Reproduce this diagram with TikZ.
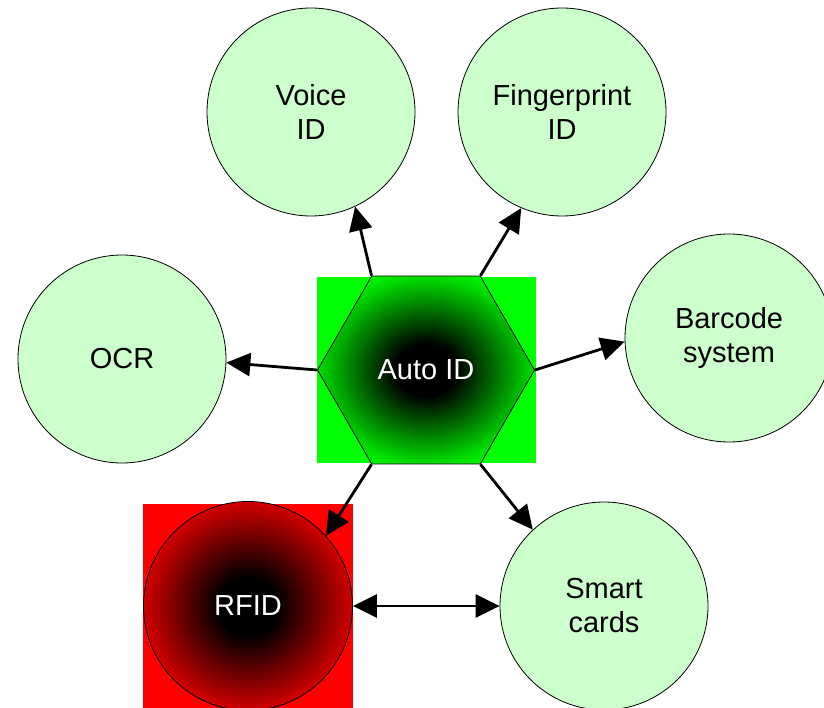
\documentclass[tikz,border=0pt]{standalone}
\usepackage{fontspec}
\setmainfont{Liberation Sans}
\usetikzlibrary{arrows.meta, shapes.geometric}
\definecolor{hellgruen}{HTML}{CCFFCC}
\definecolor{knallgruen}{HTML}{00FF00}
\definecolor{knallrot}{HTML}{FF0000}
\definecolor{gruenrand}{HTML}{00E000}
\definecolor{rotrand}{HTML}{D20000}
\pgfdeclareradialshading{autoidschatten}{\pgfpointorigin}{color(0bp)=(black); color(7bp)=(black); color(25bp)=(gruenrand); color(29bp)=(knallgruen); color(50bp)=(knallgruen)}
\pgfdeclareradialshading{rfidschatten}{\pgfpointorigin}{color(0bp)=(black); color(7bp)=(black); color(25bp)=(rotrand); color(50bp)=(rotrand)}

\begin{document}
\begin{tikzpicture}[
    x=1pt, y=-1pt,
    every node/.style={font=\fontsize{29}{34}\selectfont},
    idkreis/.style={circle, draw=black, line width=0.8pt, fill=hellgruen,
                    minimum size=208pt, inner sep=0pt, align=center},
    pfeil/.style={line width=2.8pt, -{Triangle[length=24pt, width=23pt]}},
    doppelpfeil/.style={line width=2.8pt,
                        {Triangle[length=24pt, width=23pt]}-{Triangle[length=24pt, width=23pt]}},
  ]
  \useasboundingbox (0,0) rectangle (824,708);

  % Hintergrundflaechen
  \fill[knallgruen] (317,277) rectangle (536,463);
  \fill[knallrot] (143,504) rectangle (353,708);

  % Zentrum (Sechseck)
  \node[regular polygon, regular polygon sides=6, minimum size=217pt, inner sep=0pt,
        draw=black, line width=0.8pt, shading=autoidschatten,
        text=white] (autoid) at (426,370) {Auto ID};

  % Verfahren
  \node[idkreis] (voice)   at (311,112) {Voice\\ID};
  \node[idkreis] (finger)  at (562,112) {Fingerprint\\ID};
  \node[idkreis] (ocr)     at (122,359) {OCR};
  \node[idkreis] (barcode) at (729,338) {Barcode\\system};
  \node[idkreis] (smart)   at (604,606) {Smart\\cards};
  \node[circle, draw=black, line width=0.8pt, minimum size=209pt, inner sep=0pt,
        shading=rfidschatten, text=white] (rfid) at (248,606) {RFID};

  % Pfeile
  \draw[pfeil] (autoid.120) -- (voice.-65);
  \draw[pfeil] (autoid.60)  -- (finger.-113);
  \draw[pfeil] (autoid.180) -- (ocr.-2);
  \draw[pfeil] (autoid.0)   -- (barcode.182);
  \draw[pfeil] (autoid.240) -- (rfid.42);
  \draw[pfeil] (autoid.300) -- (smart.133);
  \draw[doppelpfeil] (rfid.east) -- (smart.west);
\end{tikzpicture}
\end{document}
